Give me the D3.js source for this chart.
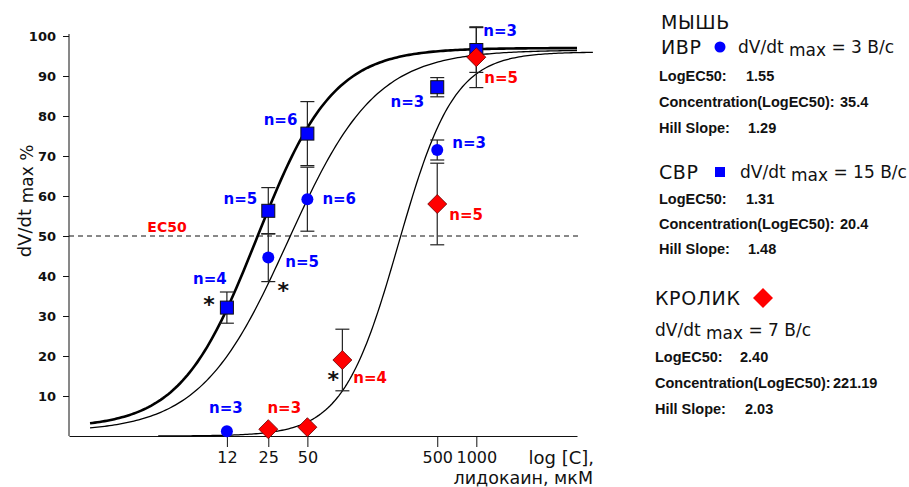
<!DOCTYPE html>
<html>
<head>
<meta charset="utf-8">
<script src="https://cdn.jsdelivr.net/npm/d3@7"></script>
<style>
  body { margin: 0; background: #fff; }
  svg { display: block; }
</style>
</head>
<body>
<div id="chart"></div>
<script>
// концентрации лидокаина, мкМ
var xTicks = [12, 25, 50, 500, 1000];
var yTicks = [10, 20, 30, 40, 50, 60, 70, 80, 90, 100];

// ИВР (кружки)
var ivrConc = [1000, 12, 25, 50, 500];
var ivrMean = [96, 1.2, 44.6, 59.2, 71.5];
var ivrErr  = [0, 0, 6, 8, 2.5];
var ivrN    = [null, 3, 5, 6, 3];

// СВР (квадраты)
var svrConc = [12, 25, 50, 500, 1000];
var svrMean = [32.1, 56.3, 75.6, 87.2, 96.5];
var svrErr  = [3.9, 5.8, 8, 2.4, 5.6];
var svrN    = [4, 5, 6, 3, 3];

// кролик (ромбы)
var rabConc = [25, 50, 93, 500, 1000];
var rabMean = [1.7, 2.2, 19, 58, 94.7];
var rabErr  = [0, 0, 7.7, 10.2, 7.6];
var rabN    = [3, null, 4, 5, 5];

// параметры аппроксимации (Hill)
var fitNames  = ["ivr", "svr", "rab"];
var fitLogEC  = [1.55, 1.31, 2.40];
var fitHill   = [1.29, 1.48, 2.03];
var fitBottom = [1, 2, 0];
var fitTop    = [96.5, 97, 96];
var fitFrom   = [1.06, 1.06, 3.55];
var fitTo     = [5960, 5960, 7900];

var width = 909, height = 487;
var svg = d3.select('#chart').append('svg')
    .attr('width', width)
    .attr('height', height);

var x = d3.scaleLog().domain([0.73, 5960]).range([69, 577]);
var y = d3.scaleLinear().domain([0, 100]).range([436, 36]);

var blue = '#0000ff', red = '#ff0000';

// axes
var yAxis = svg.append('g').attr('transform', 'translate(69,0)')
    .call(d3.axisLeft(y).tickValues(yTicks).tickSize(6).tickPadding(7).tickSizeOuter(0));
yAxis.select('.domain').attr('d', 'M0,' + y(0) + 'V' + (y(100) - 2));
yAxis.selectAll('text')
    .style('font-family', 'DejaVu Sans').style('font-weight', 'bold').style('font-size', '13px')
    .attr('fill', '#111');

var xAxis = svg.append('g').attr('transform', 'translate(0,' + y(0) + ')')
    .call(d3.axisBottom(x).tickValues(xTicks).tickFormat(d3.format('d')).tickSize(11).tickPadding(5).tickSizeOuter(0));
xAxis.selectAll('text')
    .style('font-family', 'DejaVu Sans').style('font-size', '16px')
    .attr('fill', '#111');
svg.selectAll('.domain, .tick line').attr('stroke', '#111');

// EC50 line
svg.append('line')
    .attr('x1', 69).attr('x2', 578)
    .attr('y1', y(50)).attr('y2', y(50))
    .attr('stroke', '#111').attr('stroke-dasharray', '5,4');
svg.append('text').text('EC50')
    .attr('x', 167).attr('y', 232).attr('text-anchor', 'middle')
    .attr('fill', red).style('font-family', 'DejaVu Sans').style('font-weight', 'bold').style('font-size', '14px');

// curves
function hill(i) {
  var pts = d3.range(0, 201).map(function(k) {
    var lc = Math.log10(fitFrom[i]) + k / 200 * (Math.log10(fitTo[i]) - Math.log10(fitFrom[i]));
    var v = fitBottom[i] + (fitTop[i] - fitBottom[i]) / (1 + Math.pow(10, (fitLogEC[i] - lc) * fitHill[i]));
    return [Math.pow(10, lc), v];
  });
  return pts;
}
var line = d3.line().x(function(d) { return x(d[0]); }).y(function(d) { return y(d[1]); });
fitNames.forEach(function(n, i) {
  svg.append('path')
      .attr('d', line(hill(i)))
      .attr('fill', 'none')
      .attr('stroke', '#000')
      .attr('stroke-width', n === 'svr' ? 2.6 : 1.3);
});

// error bars
function errBars(conc, mean, err) {
  conc.forEach(function(c, i) {
    if (!err[i]) return;
    var cx = x(c), y1 = y(mean[i] + err[i]), y2 = y(mean[i] - err[i]);
    var g = svg.append('g').attr('stroke', '#222').attr('stroke-width', 1.2);
    g.append('line').attr('x1', cx).attr('x2', cx).attr('y1', y1).attr('y2', y2);
    g.append('line').attr('x1', cx - 7).attr('x2', cx + 7).attr('y1', y1).attr('y2', y1);
    g.append('line').attr('x1', cx - 7).attr('x2', cx + 7).attr('y1', y2).attr('y2', y2);
  });
}
errBars(ivrConc, ivrMean, ivrErr);
errBars(svrConc, svrMean, svrErr);
errBars(rabConc, rabMean, rabErr);

// markers
svg.selectAll('.ivr').data(ivrConc).enter().append('circle')
    .attr('cx', function(d) { return x(d); })
    .attr('cy', function(d, i) { return y(ivrMean[i]); })
    .attr('r', 6).attr('fill', blue);
svg.selectAll('.svr').data(svrConc).enter().append('rect')
    .attr('x', function(d) { return x(d) - 6.5; })
    .attr('y', function(d, i) { return y(svrMean[i]) - 6.5; })
    .attr('width', 13).attr('height', 13)
    .attr('fill', blue).attr('stroke', '#111').attr('stroke-width', 1);
svg.selectAll('.rab').data(rabConc).enter().append('path')
    .attr('d', 'M0,-9.5L9.5,0L0,9.5L-9.5,0Z')
    .attr('transform', function(d, i) { return 'translate(' + x(d) + ',' + y(rabMean[i]) + ')'; })
    .attr('fill', red).attr('stroke', '#600').attr('stroke-width', 0.8);

// n= labels
var ivrLab = [null, [-1, -24, 'middle'], [17, 4, 'start'], [15, -1, 'start'], [15, -7, 'start']];
var svrLab = [[-17, -29, 'middle'], [-11, -12, 'end'], [-10, -14, 'end'], [-13, 14, 'end'], [7, -19, 'start']];
var rabLab = [[16, -22, 'middle'], null, [11, 18, 'start'], [12, 11, 'start'], [8, 20, 'start']];
function nLabels(conc, mean, ns, lab, col) {
  conc.forEach(function(c, i) {
    if (ns[i] == null) return;
    svg.append('text').text('n=' + ns[i])
        .attr('x', x(c) + lab[i][0]).attr('y', y(mean[i]) + lab[i][1])
        .attr('dy', '0.36em').attr('text-anchor', lab[i][2])
        .attr('fill', col)
        .style('font-family', 'DejaVu Sans').style('font-weight', 'bold').style('font-size', '15px');
  });
}
nLabels(ivrConc, ivrMean, ivrN, ivrLab, blue);
nLabels(svrConc, svrMean, svrN, svrLab, blue);
nLabels(rabConc, rabMean, rabN, rabLab, red);

// significance marks
var stars = [[x(12) - 18, y(svrMean[0]) - 6], [x(25) + 15, y(ivrMean[2]) + 30], [x(93) - 9, y(rabMean[2]) + 17]];
stars.forEach(function(s) {
  svg.append('text').text('*')
      .attr('x', s[0]).attr('y', s[1] + 10).attr('text-anchor', 'middle')
      .attr('fill', '#111')
      .style('font-family', 'DejaVu Sans').style('font-weight', 'bold').style('font-size', '22px');
});

// axis titles
var yl = svg.append('text')
    .attr('transform', 'translate(31,201) rotate(-90)')
    .attr('text-anchor', 'middle')
    .attr('fill', '#111')
    .style('font-family', 'DejaVu Sans').style('font-size', '18px');
yl.append('tspan').text('dV/dt ');
yl.append('tspan').text('max %').attr('dy', 2).style('font-size', '17px');

svg.append('text').text('log [C],')
    .attr('x', 594).attr('y', 464).attr('text-anchor', 'end')
    .attr('fill', '#111').style('font-family', 'DejaVu Sans').style('font-size', '18px');
svg.append('text').text('лидокаин, мкМ')
    .attr('x', 593).attr('y', 484).attr('text-anchor', 'end')
    .attr('fill', '#111').style('font-family', 'DejaVu Sans').style('font-size', '17.5px');

// legend
var legHead = ['МЫШЬ'];
var legGroups = ['ИВР', 'СВР', 'КРОЛИК'];
var legRate = ['= 3 В/с', '= 15 В/с', '= 7 В/с'];
var legConc = ['35.4', '20.4', '221.19'];

function head(t, x0, y0) {
  return svg.append('text').text(t).attr('x', x0).attr('y', y0)
      .attr('fill', '#111').style('font-family', 'DejaVu Sans').style('font-size', '19px')
      .style('letter-spacing', '0.6px');
}
function rate(x0, y0, r) {
  var t = svg.append('text').attr('x', x0).attr('y', y0)
      .attr('fill', '#111').style('font-family', 'DejaVu Sans').style('font-size', '17px');
  t.append('tspan').text('dV/dt');
  t.append('tspan').text(' max').attr('dy', 3);
  t.append('tspan').text('  ' + r).attr('dy', -3);
}
function stat(lbl, val, x0, xv, y0) {
  svg.append('text').text(lbl).attr('x', x0).attr('y', y0)
      .attr('fill', '#111').style('font-family', 'Liberation Sans').style('font-weight', 'bold').style('font-size', '14.5px');
  svg.append('text').text(val).attr('x', xv).attr('y', y0)
      .attr('fill', '#111').style('font-family', 'Liberation Sans').style('font-weight', 'bold').style('font-size', '14.5px');
}

head(legHead[0], 661, 29);
head(legGroups[0], 661, 54);
svg.append('circle').attr('cx', 720).attr('cy', 47).attr('r', 5.5).attr('fill', blue);
rate(738, 53, legRate[0]);
stat('LogEC50:', fitLogEC[0].toFixed(2), 659, 746, 81);
stat('Concentration(LogEC50):', legConc[0], 659, 840, 107);
stat('Hill Slope:', fitHill[0].toFixed(2), 659, 748, 133);

head(legGroups[1], 659, 179);
svg.append('rect').attr('x', 715).attr('y', 167).attr('width', 10).attr('height', 10).attr('fill', blue);
rate(740, 178, legRate[1]);
stat('LogEC50:', fitLogEC[1].toFixed(2), 659, 746, 204);
stat('Concentration(LogEC50):', legConc[1], 659, 840, 229);
stat('Hill Slope:', fitHill[1].toFixed(2), 659, 748, 254);

head(legGroups[2], 655, 305);
svg.append('path').attr('d', 'M0,-10L10,0L0,10L-10,0Z')
    .attr('transform', 'translate(763,298)').attr('fill', red);
rate(655, 336, legRate[2]);
stat('LogEC50:', fitLogEC[2].toFixed(2), 655, 740, 362);
stat('Concentration(LogEC50):', legConc[2], 655, 833, 388);
stat('Hill Slope:', fitHill[2].toFixed(2), 655, 745, 414);
</script>
</body>
</html>
